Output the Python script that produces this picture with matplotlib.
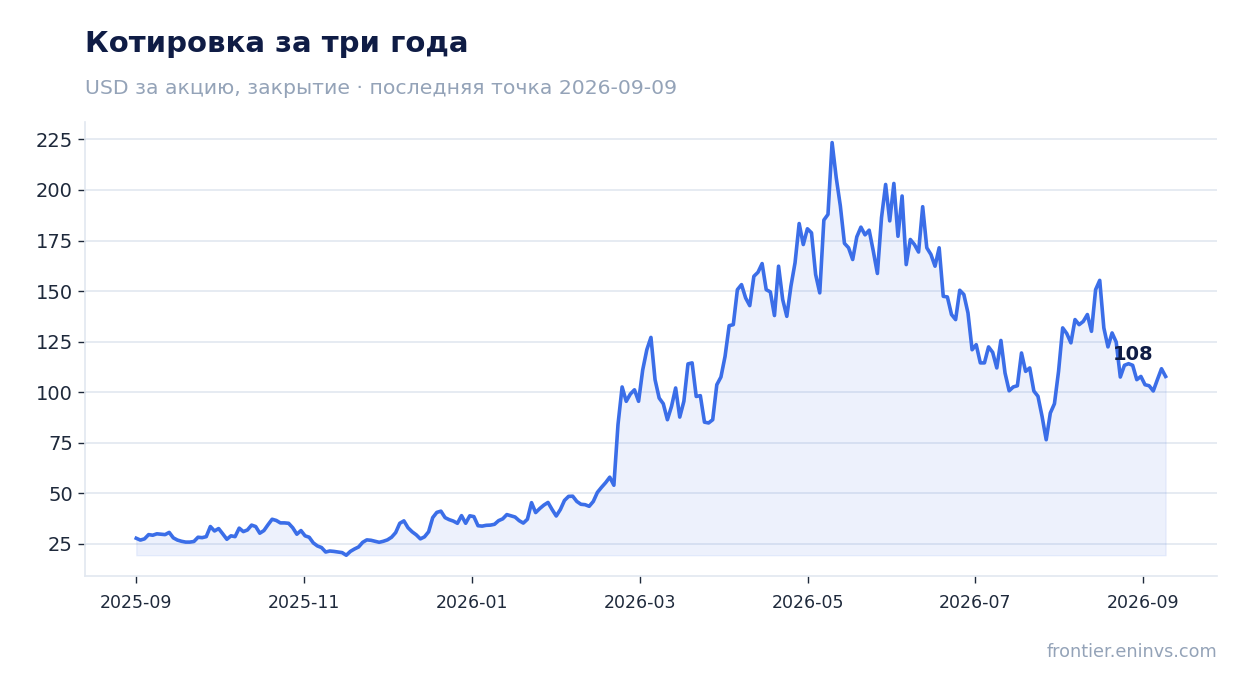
import matplotlib
matplotlib.use("Agg")
import matplotlib.pyplot as plt
import pandas as pd
import numpy as np

plt.rcParams['font.family'] = ['DejaVu Sans']

start_date = "2025-09-01"
end_date = "2026-09-09"

prices = [
    27.8, 26.9, 27.5, 29.6, 29.3, 30.0, 29.8, 29.6, 30.7, 28.0,
    26.9, 26.3, 25.9, 25.9, 26.2, 28.3, 28.1, 28.6, 33.6, 31.4,
    32.6, 30.0, 27.3, 29.0, 28.6, 32.8, 31.1, 31.9, 34.3, 33.6,
    30.3, 31.6, 34.5, 37.2, 36.6, 35.4, 35.4, 35.2, 33.0, 29.8,
    31.6, 29.0, 28.3, 25.5, 24.0, 23.2, 21.0, 21.5, 21.3, 21.0,
    20.7, 19.4, 21.3, 22.5, 23.5, 25.8, 27.0, 26.8, 26.3, 25.8,
    26.3, 27.0, 28.3, 30.6, 35.2, 36.4, 33.0, 31.0, 29.5, 27.5,
    28.5, 31.0, 38.0, 40.6, 41.2, 38.0, 37.0, 36.3, 35.2, 39.0,
    35.2, 38.9, 38.5, 34.0, 33.8, 34.2, 34.3, 34.7, 36.5, 37.4,
    39.5, 38.9, 38.3, 36.5, 35.3, 37.2, 45.4, 40.5, 42.5, 44.2,
    45.5, 42.0, 38.8, 42.0, 46.5, 48.5, 48.6, 46.0, 44.6, 44.4,
    43.6, 46.0, 50.5, 53.0, 55.3, 58.0, 54.0, 84.0, 102.6, 95.5,
    99.1, 101.2, 95.5, 111.0, 121.0, 127.1, 106.2, 97.1, 94.3, 86.4,
    93.0, 102.1, 87.7, 95.5, 114.0, 114.5, 97.9, 98.3, 85.2, 84.8,
    86.4, 103.7, 107.5, 117.7, 132.9, 133.4, 150.7, 153.2, 146.6, 142.8,
    157.3, 159.3, 163.6, 150.7, 149.6, 137.9, 162.3, 145.8, 137.5, 152.4,
    164.0, 183.4, 173.0, 180.8, 178.8, 158.2, 149.1, 185.1, 187.9, 223.4,
    206.1, 192.1, 173.6, 171.4, 165.6, 176.8, 181.6, 177.8, 180.1, 169.8,
    158.7, 186.3, 202.7, 184.7, 203.2, 177.1, 197.0, 163.1, 175.5, 173.0,
    169.3, 191.7, 171.4, 168.1, 162.3, 171.4, 147.4, 147.1, 138.4, 135.9,
    150.4, 148.3, 139.2, 121.0, 123.5, 114.5, 114.5, 122.4, 119.7, 112.0,
    125.6, 109.5, 100.7, 102.6, 103.2, 119.4, 110.3, 112.0, 100.6, 98.0,
    88.0, 76.5, 89.7, 94.3, 110.3, 131.8, 129.0, 124.4, 135.9, 133.4,
    135.0, 138.4, 130.1, 150.7, 155.3, 131.8, 122.4, 129.3, 124.8, 107.5,
    113.3, 114.1, 113.3, 106.2, 107.8, 103.7, 103.2, 100.6, 106.2, 111.6,
    107.8,
]

title = "Котировка за три года"
subtitle = "USD за акцию, закрытие · последняя точка 2026-09-09"
footer = "frontier.eninvs.com"
yticks = [25, 50, 75, 100, 125, 150, 175, 200, 225]

tick_dates = pd.date_range(start_date, end_date, freq="2MS")
origin = pd.Timestamp(start_date)


def month_pos(d):
    d = pd.DatetimeIndex(d)
    return ((d.year - origin.year) * 12 + (d.month - origin.month)
            + (d.day - 1) / d.days_in_month).to_numpy(dtype=float)


x_end = month_pos([pd.Timestamp(end_date)])[0]
x = np.linspace(0.0, x_end, len(prices))
values = np.array(prices)

line_color = "#3b6ee8"
navy = "#0f1c45"
grey = "#94a3b8"
grid_c = "#e2e8f0"
tick_c = "#1e293b"

fig = plt.figure(figsize=(12.47, 6.93), dpi=100)
ax = fig.add_axes([0.068, 0.169, 0.908, 0.655])

base = values.min()
ax.fill_between(x, values, base, color=line_color, alpha=0.09, linewidth=1)
ax.plot(x, values, color=line_color, linewidth=2.6, solid_joinstyle="round")

ax.annotate(f"{values[-1]:.0f}", xy=(x[-1], values[-1]), xytext=(-9, 9),
            textcoords="offset points", ha="right", va="bottom",
            fontsize=14, fontweight="bold", color=navy)

ax.set_yticks(yticks)
ax.set_xticks(month_pos(tick_dates))
ax.set_xticklabels([d.strftime("%Y-%m") for d in tick_dates])
ax.grid(axis="y", color=grid_c, linewidth=1.2)
ax.grid(axis="x", visible=False)
ax.set_axisbelow(True)
for s in ["top", "right"]:
    ax.spines[s].set_visible(False)
for s in ["left", "bottom"]:
    ax.spines[s].set_color(grid_c)
    ax.spines[s].set_linewidth(1.2)
ax.tick_params(axis="y", labelsize=14, colors=tick_c, length=5, width=1)
ax.tick_params(axis="x", labelsize=12.5, colors=tick_c, length=5, width=1, pad=8)

fig.text(0.068, 0.936, title, fontsize=21, fontweight="bold", color=navy, va="center")
fig.text(0.068, 0.873, subtitle, fontsize=14.7, color=grey, va="center")
fig.text(0.976, 0.059, footer, fontsize=12.7, color=grey, ha="right", va="center")

fig.savefig("out.png", dpi=100)
